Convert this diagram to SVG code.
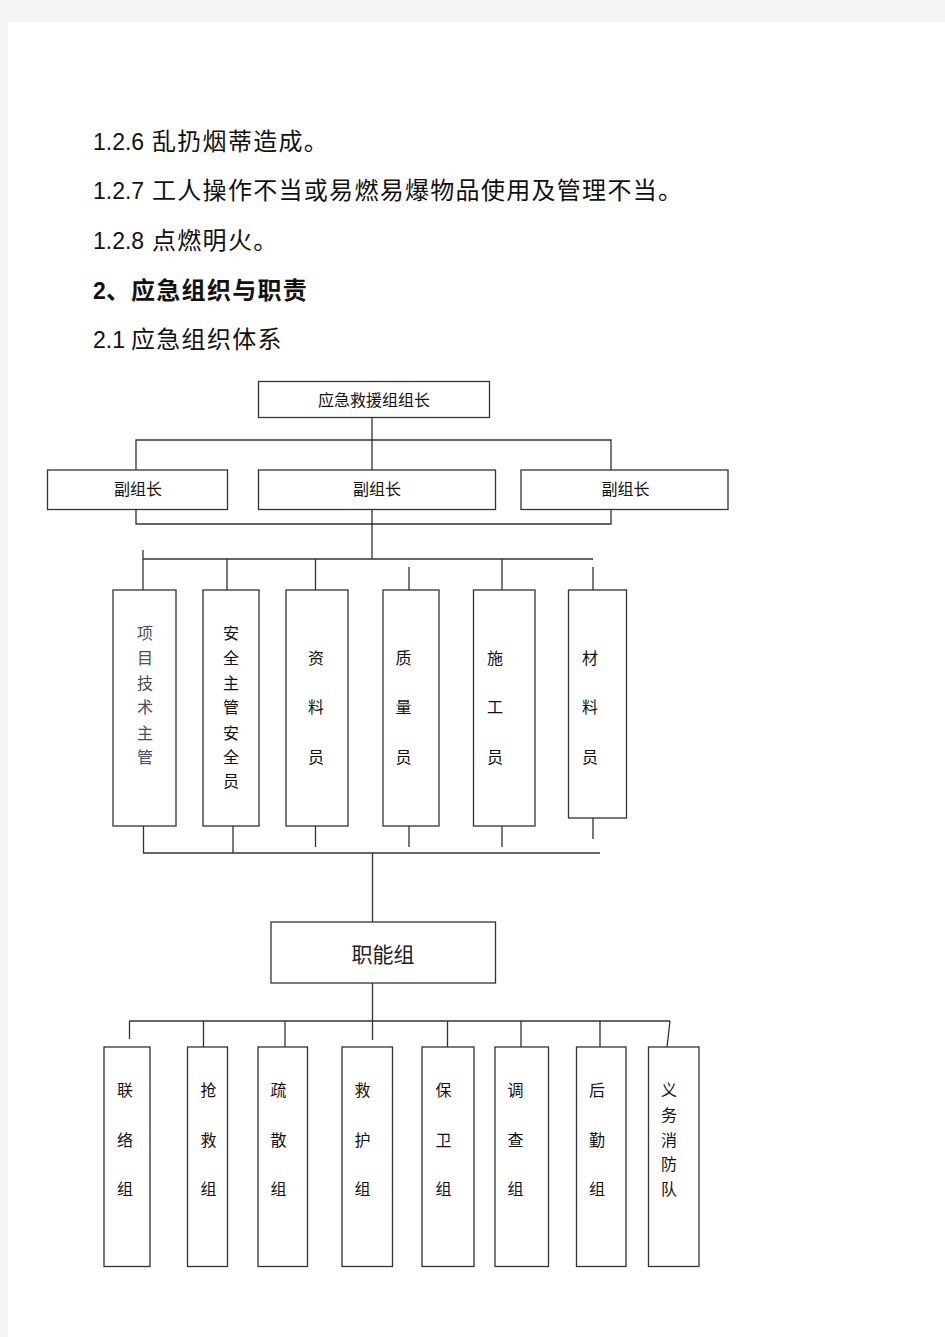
<svg xmlns="http://www.w3.org/2000/svg" width="945" height="1337" viewBox="0 0 945 1337">
<style>
.body{font-family:"Liberation Sans","Noto Sans CJK SC",sans-serif;font-size:23px;fill:#111}
.cjk{font-family:"Noto Sans CJK SC",sans-serif;font-size:24px;letter-spacing:1.3px}
.box{fill:#fff;stroke:#333;stroke-width:1.3}
.lbl{font-family:"Liberation Sans","Noto Sans CJK SC",sans-serif;font-size:16px;fill:#111;text-anchor:middle}
.conn{fill:none;stroke:#333;stroke-width:1.3}
</style>
<rect x="0" y="0" width="945" height="1337" fill="#f4f4f4"/>
<rect x="8" y="22" width="937" height="1315" fill="#fff"/>
<g id="text">
<text class="body" x="93" y="150">1.2.6 <tspan class="cjk" x="152">乱扔烟蒂造成。</tspan></text>
<text class="body" x="93" y="199">1.2.7 <tspan class="cjk" x="152">工人操作不当或易燃易爆物品使用及管理不当。</tspan></text>
<text class="body" x="93" y="249">1.2.8 <tspan class="cjk" x="152">点燃明火。</tspan></text>
<text class="body" x="93" y="299" font-weight="bold">2<tspan class="cjk" x="106">、</tspan><tspan class="cjk" x="131">应急组织与职责</tspan></text>
<text class="body" x="93" y="348">2.1 <tspan class="cjk" x="131">应急组织体系</tspan></text>
</g>
<g id="connectors">
<path class="conn" d="M372 417.5V470M136 470V440H611V470"/>
<path class="conn" d="M136 509.5V524H611V509.5" stroke-width="2" stroke="#111"/>
<path class="conn" d="M372 509.5V559M143 550V590M143 559H593M227 559V590M315.5 559V590M409 567V590M502 559V590M593 567V590"/>
<path class="conn" d="M143.5 826V853M233 826V853M315.5 826V847M409 826V847M502 826V847M593 818V839M143 853H600"/>
<path class="conn" d="M372.5 853V922M372.5 983V1040M129 1021H670M129.5 1021V1039M203.5 1021V1047M285 1021V1047M447.5 1021V1047M521 1021V1047M600 1021V1047M670 1021L667 1047"/>
</g>
<g id="n-leader"><rect class="box" x="258.5" y="381.5" width="231" height="36"/><text class="lbl" x="374" y="406">应急救援组组长</text></g>
<g id="n-deputy1"><rect class="box" x="47.5" y="470" width="180" height="39.5"/><text class="lbl" x="138" y="495">副组长</text></g>
<g id="n-deputy2"><rect class="box" x="258.5" y="470" width="237" height="39.5"/><text class="lbl" x="377" y="495">副组长</text></g>
<g id="n-deputy3"><rect class="box" x="521" y="470" width="207" height="39.5"/><text class="lbl" x="625.5" y="495">副组长</text></g>
<g id="n-tech"><rect class="box" x="113" y="590" width="63" height="236"/><text class="lbl" style="fill:#4a4a66"><tspan x="145" y="639">项</tspan><tspan x="145" y="664">目</tspan><tspan x="145" y="689">技</tspan><tspan x="145" y="713">术</tspan><tspan x="145" y="739">主</tspan><tspan x="145" y="763">管</tspan></text></g>
<g id="n-safety"><rect class="box" x="203" y="590" width="56" height="236"/><text class="lbl"><tspan x="231" y="639">安</tspan><tspan x="231" y="664">全</tspan><tspan x="231" y="689">主</tspan><tspan x="231" y="713">管</tspan><tspan x="231" y="739">安</tspan><tspan x="231" y="763">全</tspan><tspan x="231" y="787">员</tspan></text></g>
<g id="n-data"><rect class="box" x="286" y="590" width="62" height="236"/><text class="lbl"><tspan x="316" y="664">资</tspan><tspan x="316" y="713">料</tspan><tspan x="316" y="763">员</tspan></text></g>
<g id="n-quality"><rect class="box" x="383" y="590" width="56" height="236"/><text class="lbl"><tspan x="403.5" y="664">质</tspan><tspan x="403.5" y="713">量</tspan><tspan x="403.5" y="763">员</tspan></text></g>
<g id="n-construct"><rect class="box" x="473.5" y="590" width="61.5" height="236" stroke-width="1.8"/><text class="lbl"><tspan x="495" y="664">施</tspan><tspan x="495" y="713">工</tspan><tspan x="495" y="763">员</tspan></text></g>
<g id="n-material"><rect class="box" x="568.5" y="590" width="58" height="228" stroke-width="2"/><text class="lbl"><tspan x="590" y="664">材</tspan><tspan x="590" y="713">料</tspan><tspan x="590" y="763">员</tspan></text></g>
<g id="n-func"><rect class="box" x="271" y="922" width="224.5" height="61"/><text class="lbl" x="383" y="962" style="font-size:21px;fill:#222">职能组</text></g>
<g id="n-liaison"><rect class="box" x="104" y="1047" width="46" height="219.5"/><text class="lbl"><tspan x="125" y="1096">联</tspan><tspan x="125" y="1146">络</tspan><tspan x="125" y="1195">组</tspan></text></g>
<g id="n-rescue"><rect class="box" x="187.5" y="1047" width="40" height="219.5"/><text class="lbl"><tspan x="208.5" y="1096">抢</tspan><tspan x="208.5" y="1146">救</tspan><tspan x="208.5" y="1195">组</tspan></text></g>
<g id="n-evac"><rect class="box" x="258" y="1047" width="49.5" height="219.5"/><text class="lbl"><tspan x="278.5" y="1096">疏</tspan><tspan x="278.5" y="1146">散</tspan><tspan x="278.5" y="1195">组</tspan></text></g>
<g id="n-care"><rect class="box" x="342" y="1047" width="50.5" height="219.5"/><text class="lbl"><tspan x="362.5" y="1096">救</tspan><tspan x="362.5" y="1146">护</tspan><tspan x="362.5" y="1195">组</tspan></text></g>
<g id="n-guard"><rect class="box" x="422" y="1047" width="52" height="219.5"/><text class="lbl"><tspan x="443.5" y="1096">保</tspan><tspan x="443.5" y="1146">卫</tspan><tspan x="443.5" y="1195">组</tspan></text></g>
<g id="n-investigate"><rect class="box" x="495" y="1047" width="53.5" height="219.5"/><text class="lbl"><tspan x="515.5" y="1096">调</tspan><tspan x="515.5" y="1146">查</tspan><tspan x="515.5" y="1195">组</tspan></text></g>
<g id="n-logistics"><rect class="box" x="576.5" y="1047" width="49.5" height="219.5"/><text class="lbl"><tspan x="597" y="1096">后</tspan><tspan x="597" y="1146">勤</tspan><tspan x="597" y="1195">组</tspan></text></g>
<g id="n-fire"><rect class="box" x="648.5" y="1047" width="50.5" height="219.5"/><text class="lbl"><tspan x="669" y="1096">义</tspan><tspan x="669" y="1121">务</tspan><tspan x="669" y="1146">消</tspan><tspan x="669" y="1170">防</tspan><tspan x="669" y="1195">队</tspan></text></g>
</svg>
